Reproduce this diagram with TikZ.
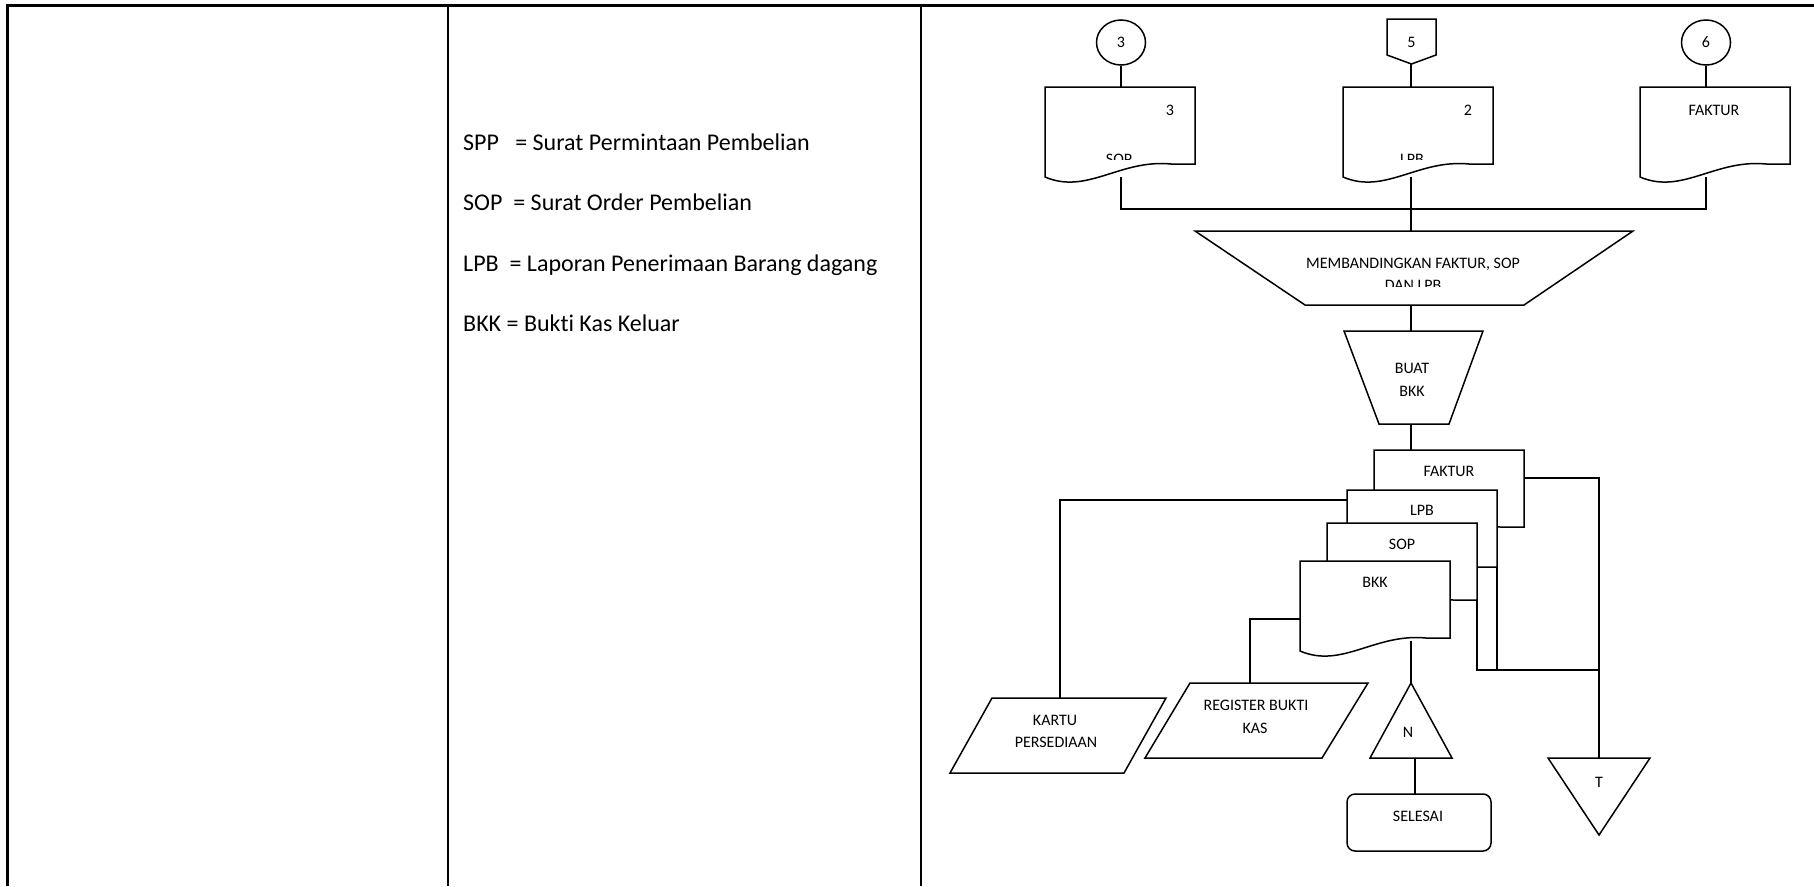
\documentclass[tikz,border=0pt]{standalone}
\usepackage{fontspec}
\setmainfont{Carlito}[Ligatures={NoCommon}]
\usetikzlibrary{shapes.geometric}
\newcommand{\flowdoc}[2]{\draw[fl,fill=white] (#1,#2) -- (#1+150,#2) -- (#1+150,#2+77) -- (#1+126,#2+77) .. controls (#1+75,#2+72) and (#1+42,#2+108) .. (#1,#2+90) -- cycle;}
\begin{document}
\begin{tikzpicture}[x=1pt,y=-1pt,
  fl/.style={line width=1.5pt},
  lbl/.style={font=\fontsize{16}{19}\selectfont, inner sep=0pt, anchor=base},
  leg/.style={font=\fontsize{24}{29}\selectfont, inner sep=0pt, anchor=base west},
  conn/.style={draw, fl, ellipse, fill=white, minimum width=49pt, minimum height=45pt, inner sep=0pt, font=\fontsize{16}{19}\selectfont}]
\useasboundingbox (0,0) rectangle (1814,886);
% table
\draw[line width=3pt] (6,5) -- (1814,5);
\draw[line width=3pt] (7.5,5) -- (7.5,886);
\draw[line width=2.5pt] (448,5) -- (448,886);
\draw[line width=2.5pt] (921,5) -- (921,886);
% legend
\node[leg] (l1) at (463,150) {SPP\ \ \ = Surat Permintaan Pembelian};
\node[leg] (l2) at (463,210) {SOP\ \ = Surat Order Pembelian};
\node[leg] (l3) at (463,271) {LPB\ \ = Laporan Penerimaan Barang dagang};
\node[leg] (l4) at (463,331) {BKK = Bukti Kas Keluar};
% connection points
\coordinate (sopT) at (1121,87); \coordinate (sopB) at (1121,177);
\coordinate (lpbT) at (1411,87); \coordinate (lpbB) at (1411,177);
\coordinate (fakT) at (1706,87); \coordinate (fakB) at (1706,177);
\coordinate (busL) at (1121,209); \coordinate (busM) at (1411,209); \coordinate (busR) at (1706,209);
\coordinate (p5tip) at (1411,64);
\coordinate (trT) at (1411,231); \coordinate (trB) at (1411,305);
\coordinate (bbT) at (1411,331); \coordinate (bbB) at (1411,424);
\coordinate (skT) at (1411,450);
\coordinate (skFR) at (1525,478);
\coordinate (skLL) at (1347,500);
\coordinate (bkL) at (1300,619);
\coordinate (bkB) at (1411,641);
\coordinate (sRB) at (1477,600);
\coordinate (lRB) at (1497,567);
\coordinate (j2) at (1599,670);
\coordinate (nT) at (1411,683); \coordinate (nB) at (1415,758);
\coordinate (tT) at (1599,758);
\coordinate (kT) at (1060,698);
\coordinate (rT) at (1250,683);
\coordinate (sT) at (1415,794);
% circles
\node[conn] (c3) at (1121,42.5) {3};
\node[conn] (c6) at (1706,42.5) {6};
% connectors
\draw[fl] (c3.south) -- (sopT);
\draw[fl] (p5tip) -- (lpbT);
\draw[fl] (c6.south) -- (fakT);
\draw[fl] (sopB) -- (busL) -- (busR) -- (fakB);
\draw[fl] (lpbB) -- (busM) -- (trT);
\draw[fl] (trB) -- (bbT);
\draw[fl] (bbB) -- (skT);
\draw[fl] (skFR) -| (tT);
\draw[fl] (skLL) -| (kT);
\draw[fl] (bkL) -| (rT);
\draw[fl] (bkB) -- (nT);
\draw[fl] (sRB) |- (j2);
\draw[fl] (lRB) -- (lRB |- j2);
\draw[fl] (nB) -- (sT);
% pentagon
\draw[fl,fill=white] (1387,19) -- (1436,19) -- (1436,55) -- (1411.5,64) -- (1387,55) -- cycle;
% top documents
\flowdoc{1045}{87}
\flowdoc{1343}{87}
\flowdoc{1640}{87}
% trapezoids
\draw[fl,fill=white] (1195,231) -- (1633,231) -- (1524,305) -- (1305,305) -- cycle;
\draw[fl,fill=white] (1344,331) -- (1483,331) -- (1449,424) -- (1379,424) -- cycle;
% stacked documents
\flowdoc{1374}{450}
\flowdoc{1347}{490}
\flowdoc{1327}{523}
\flowdoc{1300}{561}
% parallelograms
\draw[fl,fill=white] (992,698) -- (1166,698) -- (1124,773) -- (950,773) -- cycle;
\draw[fl,fill=white] (1190,683) -- (1368,683) -- (1322,758) -- (1145,758) -- cycle;
% triangles
\draw[fl,fill=white] (1411,683) -- (1452,758) -- (1370,758) -- cycle;
\draw[fl,fill=white] (1548,758) -- (1650,758) -- (1599,835) -- cycle;
% selesai
\draw[fl,rounded corners=8pt] (1347,794) rectangle (1491,851);
% labels
\node[lbl] (t5) at (1411.5,47) {5};
\node[lbl] (d3) at (1170,115) {3};
\node[lbl] (d2) at (1468,115) {2};
\node[lbl] (dfak) at (1714,115) {FAKTUR};
\begin{scope}
\clip (1040,80) rectangle (1800,159.5);
\node[lbl] (tsop) at (1119,164) {SOP};
\node[lbl] (tlpb) at (1412,164) {LPB};
\end{scope}
\node[lbl] (m1) at (1413,268) {MEMBANDINGKAN FAKTUR, SOP};
\begin{scope}
\clip (1190,231) rectangle (1640,286);
\node[lbl] (m2) at (1413,290) {DAN LPB};
\end{scope}
\node[lbl] (b1) at (1412,373) {BUAT};
\node[lbl] (b2) at (1412,396) {BKK};
\node[lbl] (sf) at (1449,476) {FAKTUR};
\node[lbl] (sl) at (1422,515) {LPB};
\node[lbl] (ss) at (1402,549) {SOP};
\node[lbl] (sb) at (1375,587) {BKK};
\node[lbl] (k1) at (1055,725) {KARTU};
\node[lbl] (k2) at (1056,747) {PERSEDIAAN};
\node[lbl] (r1) at (1256,710) {REGISTER BUKTI};
\node[lbl] (r2) at (1255,733) {KAS};
\node[lbl] (tn) at (1408,737) {N};
\node[lbl] (tt) at (1599,787) {T};
\node[lbl] (tsel) at (1418,821) {SELESAI};
\end{tikzpicture}
\end{document}
